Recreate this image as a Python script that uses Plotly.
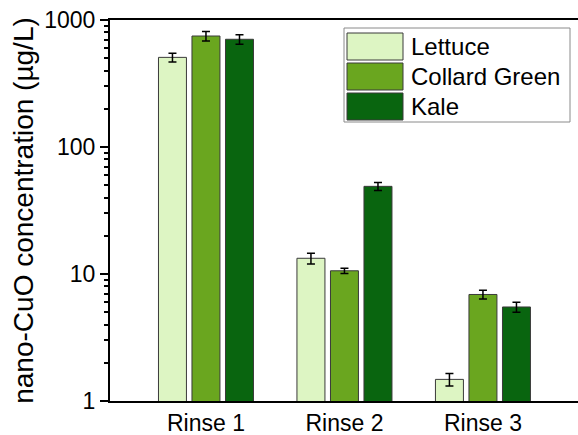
import plotly.graph_objects as go

categories = ["Rinse 1", "Rinse 2", "Rinse 3"]
series_names = ["Lettuce", "Collard Green", "Kale"]
lettuce = [508, 13.3, 1.48]
lettuce_err = [40, 1.3, 0.17]
collard = [748, 10.6, 6.9]
collard_err = [65, 0.5, 0.55]
kale = [705, 49, 5.5]
kale_err = [60, 3.5, 0.5]
colors = ["#ddf5c3", "#6aa61f", "#09650f"]

W, H = 590, 435
L, R, T, B = 110, 0, 20, 34
FONT = "Liberation Sans, Arial, sans-serif"

fig = go.Figure()
for name, vals, errs, col in zip(series_names, [lettuce, collard, kale],
                                 [lettuce_err, collard_err, kale_err], colors):
    fig.add_trace(go.Bar(
        name=name, x=categories, y=vals,
        marker=dict(color=col, line=dict(color="#3a3a3a", width=1)),
        error_y=dict(type="data", array=errs, visible=True,
                     color="black", thickness=1.5, width=4),
        showlegend=False,
    ))

fig.update_layout(
    width=W, height=H,
    margin=dict(l=L, r=R, t=T, b=B),
    paper_bgcolor="white", plot_bgcolor="white",
    barmode="group", bargap=0.274, bargroupgap=0.165,
    font=dict(family=FONT, color="black"),
    xaxis=dict(
        range=[-0.693, 2.773], showgrid=False, zeroline=False, automargin=False,
        showline=True, linecolor="black", linewidth=2, mirror=True,
        ticks="", ticklen=0, tickfont=dict(size=23, family=FONT, color="black"),
    ),
    yaxis=dict(
        type="log", range=[0, 3], showgrid=False, zeroline=False, automargin=False,
        showline=True, linecolor="black", linewidth=2,
        ticks="outside", ticklen=8, tickwidth=2, tickcolor="black",
        tickvals=[1, 10, 100, 1000], ticktext=["1", "10", "100", "1000"],
        tickfont=dict(size=23, family=FONT, color="black"),
        minor=dict(ticks="outside", ticklen=4, tickwidth=1.5, tickcolor="black", dtick="D1"),
        title=dict(text="nano-CuO concentration (µg/L)", standoff=2,
                   font=dict(size=28, family=FONT, color="black")),
    ),
)

# manual legend (large swatches) in pixel-derived paper coordinates
pw, ph = W - L - R, H - T - B
def px(x):
    return (x - L) / pw
def py(y):
    return (H - B - y) / ph

fig.add_shape(type="rect", xref="paper", yref="paper",
              x0=px(344), x1=px(570), y0=py(122), y1=py(28),
              line=dict(color="#8a8a8a", width=1), fillcolor="white")
tops = [33, 63, 93]
for name, col, t in zip(series_names, colors, tops):
    fig.add_shape(type="rect", xref="paper", yref="paper",
                  x0=px(347), x1=px(403), y0=py(t + 27), y1=py(t),
                  line=dict(color="#3a3a3a", width=1), fillcolor=col)
    fig.add_annotation(xref="paper", yref="paper", x=px(409), y=py(t + 13.5),
                       text=name, showarrow=False, xanchor="left", yanchor="middle",
                       font=dict(size=24, family=FONT, color="black"))

fig.write_html("out.html", config={"displayModeBar": False},
               post_script="document.body.style.margin='0';document.body.style.overflow='hidden';")
